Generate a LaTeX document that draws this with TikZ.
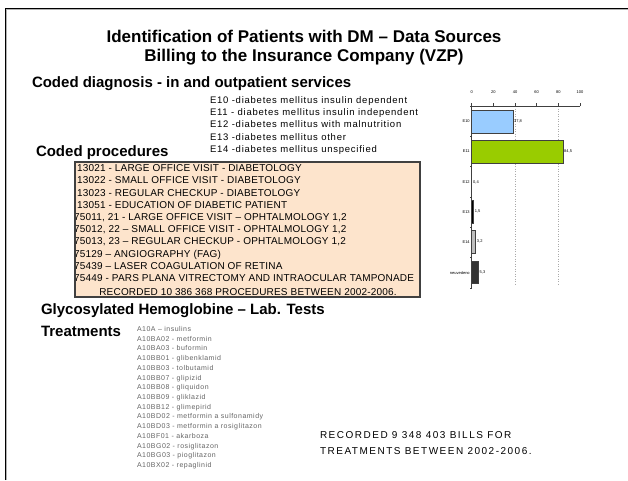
\documentclass[tikz,border=0pt]{standalone}
\usepackage{fontspec}
\setmainfont{Liberation Sans}
\definecolor{peach}{RGB}{253,228,204}
\definecolor{boxline}{RGB}{64,64,64}
\definecolor{barblue}{RGB}{153,204,255}
\definecolor{bargreen}{RGB}{153,204,0}
\definecolor{druggray}{RGB}{100,100,100}
\definecolor{gridgray}{RGB}{170,170,170}
\begin{document}
\begin{tikzpicture}[x=1pt,y=-1pt,
  every node/.style={inner sep=0pt,outer sep=0pt},
  ttl/.style={font=\fontsize{17}{20}\selectfont\bfseries},
  head/.style={font=\fontsize{15}{18}\selectfont\bfseries,anchor=west},
  dxline/.style={font=\fontsize{9.5}{11}\selectfont\addfontfeature{LetterSpace=8},anchor=base west},
  procline/.style={font=\fontsize{10}{11}\selectfont\addfontfeature{LetterSpace=2},anchor=base west},
  drugline/.style={font=\fontsize{7}{8}\selectfont\addfontfeature{LetterSpace=7},anchor=base west,text=druggray},
  billline/.style={font=\fontsize{10}{12}\selectfont\addfontfeature{LetterSpace=15},anchor=base west},
  tiny/.style={font=\fontsize{4}{5}\selectfont},
  bar/.style={draw=boxline,line width=0.8pt}]
\useasboundingbox (0,0) rectangle (628,480);
% page frame
\draw[gray!60,line width=1.5pt] (6.5,480) -- (6.5,9.5) -- (628,9.5);
\draw[black,line width=0.8pt] (5.5,480) -- (5.5,8.5) -- (628,8.5);

% title
\node[ttl] (t1) at (304,36) {Identification of Patients with DM -- Data Sources};
\node[ttl] (t2) at (304,57) {Billing to the Insurance Company (VZP)};

% diagnoses
\node[head] (hdx) at (32,84) {Coded diagnosis - in and outpatient services};
\foreach \t [count=\i] in {
  E10 -diabetes mellitus insulin dependent,
  E11 - diabetes mellitus insulin independent,
  E12 -diabetes mellitus with malnutrition,
  E13 -diabetes mellitus other,
  E14 -diabetes mellitus unspecified}
  \node[dxline] (dx\i) at (210,{103.4+12.2*(\i-1)}) {\t};

% procedures
\node[head] (hproc) at (36,153) {Coded procedures};
\fill[peach] (75,162) rectangle (420,297);
\begin{scope}
\clip (75,162) rectangle (420,297);
\foreach \t/\xx [count=\i] in {
  {13021 -  LARGE OFFICE VISIT - DIABETOLOGY}/77,
  {13022 -  SMALL OFFICE VISIT - DIABETOLOGY}/77,
  {13023 -  REGULAR CHECKUP - DIABETOLOGY}/77,
  {13051 -  EDUCATION OF DIABETIC PATIENT}/77,
  {75011, 21  -  LARGE OFFICE VISIT -- OPHTALMOLOGY 1,2}/74,
  {75012, 22 -- SMALL OFFICE VISIT - OPHTALMOLOGY 1,2}/74,
  {75013, 23 -- REGULAR CHECKUP - OPHTALMOLOGY 1,2}/74,
  {75129 -- ANGIOGRAPHY (FAG)}/74,
  {75439 -- LASER COAGULATION OF RETINA}/74,
  {75449 - PARS  PLANA VITRECTOMY AND INTRAOCULAR TAMPONADE}/74}
  \node[procline] (pr\i) at (\xx,{171.6+12.2*(\i-1)}) {\t};
\node[procline,anchor=base] (prsum) at (248,295.6) {RECORDED 10 386 368 PROCEDURES BETWEEN 2002-2006.};
\end{scope}
\draw[boxline,line width=1.2pt] (75,162) rectangle (420,297);

% lab tests and treatments
\node[head] (hlab) at (41,311) {Glycosylated Hemoglobine -- Lab. Tests};
\node[head] (htr) at (41,331) {Treatments};
\foreach \t [count=\i] in {
  A10A -- insulins,
  A10BA02 - metformin,
  A10BA03 - buformin,
  A10BB01 - glibenklamid,
  A10BB03 - tolbutamid,
  A10BB07 - glipizid,
  A10BB08 - gliquidon,
  A10BB09 - gliklazid,
  A10BB12 - glimepirid,
  A10BD02 - metformin a sulfonamidy,
  A10BD03 - metformin a rosiglitazon,
  A10BF01 - akarboza,
  A10BG02 - rosiglitazon,
  A10BG03 - pioglitazon,
  A10BX02 - repaglinid}
  \node[drugline] (dr\i) at (137,{331.5+9.72*(\i-1)}) {\t};

\node[billline] (b1) at (320,438.6) {RECORDED 9 348 403 BILLS FOR};
\node[billline] (b2) at (320,454.6) {TREATMENTS BETWEEN 2002-2006.};

% bar chart: share of diagnoses (percent)
\begin{scope}[shift={(471.7,106)}]
  \def\u{1.083}
  % grid lines at 40 and 80
  \foreach \v in {40,80}
    \draw[gridgray,dotted,line width=0.5pt] ({\v*\u},0) -- ({\v*\u},178);
  % category bars
  \draw[bar,fill=barblue] (0,4) rectangle ({38.2*\u},27);
  \draw[bar,fill=bargreen] (0,34) rectangle ({84.5*\u},57);
  \draw[bar,fill=black] (0,94) rectangle ({1.5*\u},117);
  \draw[bar,fill=gray!50] (0,124) rectangle ({3.5*\u},147);
  \draw[bar,fill=black!80] (0,155) rectangle ({6.5*\u},177);
  % value labels
  \node[tiny,anchor=west] (v1) at ({38.2*\u+1},15.5) {37,8};
  \node[tiny,anchor=west] (v2) at ({84.5*\u+1},45.5) {84,5};
  \node[tiny,anchor=west] (v3) at (1.5,76) {0,4};
  \node[tiny,anchor=west] (v4) at ({1.5*\u+1.5},105.5) {1,5};
  \node[tiny,anchor=west] (v5) at ({3.5*\u+1.5},135.5) {3,2};
  \node[tiny,anchor=west] (v6) at ({6.5*\u+1},166) {5,3};
  % category labels
  \foreach \t [count=\i] in {E10,E11,E12,E13,E14,neuvedeno}
    \node[tiny,anchor=east] (c\i) at (-2,{15.2+30.3*(\i-1)}) {\t};
  % axes
  \draw[boxline,line width=0.8pt] (0,0) -- ({100*\u},0);
  \draw[boxline,line width=0.8pt] (0,0) -- (0,182);
  \foreach \v in {0,20,...,100} {
    \draw[boxline,line width=0.6pt] ({\v*\u},0) -- ({\v*\u},-3);
    \node[tiny] (a\v) at ({\v*\u},-14) {\v};
  }
  \foreach \k in {0,...,6}
    \draw[boxline,line width=0.6pt] (0,{30.3*\k}) -- (-1.5,{30.3*\k});
\end{scope}
\end{tikzpicture}
\end{document}
